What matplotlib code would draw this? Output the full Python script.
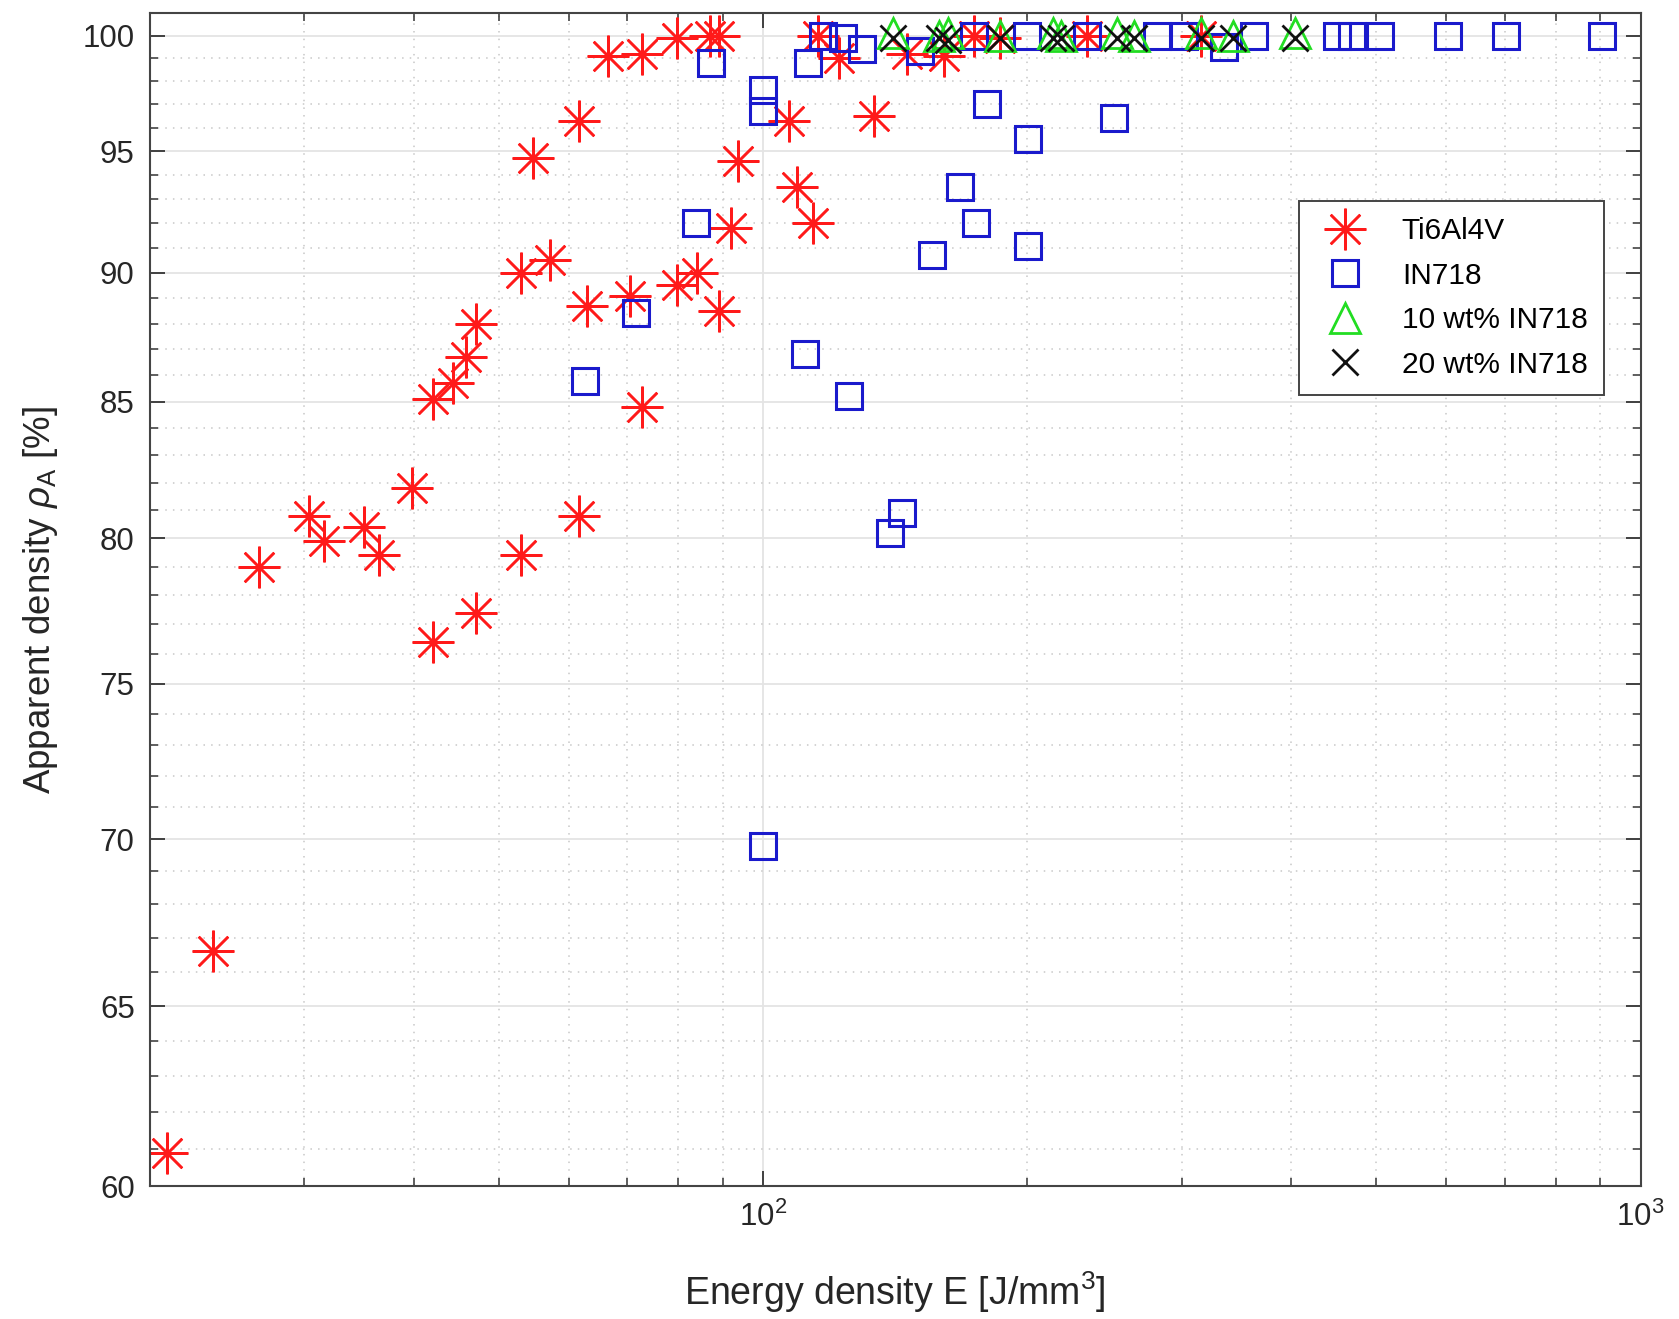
import numpy as np
import matplotlib
matplotlib.use("Agg")
from matplotlib import pyplot as plt
from matplotlib.ticker import FixedLocator, NullFormatter, FixedFormatter

plt.rcParams['font.family'] = ['Liberation Sans', 'DejaVu Sans']
plt.rcParams['mathtext.fontset'] = 'custom'
plt.rcParams['mathtext.rm'] = 'Liberation Sans'
plt.rcParams['mathtext.it'] = 'Liberation Sans:italic'

# Ti6Al4V
ti_E = [20.9, 23.6, 26.6, 30.4, 31.6, 35.1, 36.5, 39.8, 42.0, 42.0, 44.3, 45.8,
        47.1, 47.1, 52.9, 52.9, 57.2, 54.6, 61.6, 61.6, 63.0, 66.5, 70.5, 72.7,
        72.7, 79.8, 79.8, 84.0, 86.9, 89.1, 89.1, 91.9, 93.7, 107.0, 109.4, 114.1,
        115.5, 122.1, 133.7, 145.9, 160.6, 173.8, 186.4, 234.2, 315.8]
ti_rho = [60.9, 66.6, 79.0, 80.8, 79.9, 80.4, 79.4, 81.8, 76.4, 85.1, 85.7, 86.7,
          88.0, 77.4, 79.4, 90.0, 90.5, 94.7, 96.3, 80.8, 88.7, 99.1, 89.1, 99.2,
          84.8, 89.5, 99.9, 90.0, 100.0, 100.0, 88.5, 91.8, 94.6, 96.3, 93.5, 92.0,
          100.0, 99.0, 96.5, 99.2, 99.1, 100.0, 99.9, 100.0, 100.0]

# IN718
in_E = [62.6, 71.7, 83.8, 87.3, 100.0, 100.0, 100.0, 111.6, 112.6, 117.1, 123.2,
        125.3, 129.6, 139.5, 143.8, 150.9, 155.7, 167.5, 173.8, 174.8, 179.7, 200.0,
        200.6, 200.6, 234.2, 251.0, 281.4, 301.9, 335.1, 362.5, 450.4, 468.5, 504.2,
        603.8, 703.1, 903.4]
in_rho = [85.8, 88.4, 92.0, 98.8, 97.6, 96.7, 69.8, 86.8, 98.8, 100.0, 99.9,
          85.2, 99.4, 80.2, 80.9, 99.3, 90.7, 93.5, 100.0, 92.0, 97.0, 100.0,
          95.5, 91.1, 100.0, 96.4, 100.0, 100.0, 99.5, 100.0, 100.0, 100.0, 100.0,
          100.0, 100.0, 100.0]

# 10 wt% IN718
w10_E = [140.6, 158.5, 162.5, 186.4, 214.0, 218.3, 253.4, 264.4, 315.8, 342.7, 403.5]
w10_rho = [100.1, 100.0, 100.1, 100.0, 100.1, 100.0, 100.1, 100.0, 100.1, 100.0, 100.1]

# 20 wt% IN718
w20_E = [140.6, 158.5, 162.5, 186.4, 214.0, 218.3, 253.4, 264.4, 315.8, 342.7, 403.5]
w20_rho = [99.9, 99.9, 99.8, 99.9, 99.9, 99.9, 99.9, 99.9, 99.9, 99.9, 99.9]

y_major = [60, 65, 70, 75, 80, 85, 90, 95, 100]
y_minor = [v for v in range(61, 101) if v % 5 != 0]
x_minor = [30, 40, 50, 60, 70, 80, 90, 200, 300, 400, 500, 600, 700, 800, 900]

fig = plt.figure(figsize=(16.79, 13.19), dpi=100)
ax = fig.add_axes([0.0893, 0.1006, 0.8878, 0.8894])

ax.plot(ti_E, ti_rho, linestyle='none', marker=(8, 2, 0), markersize=30,
        markeredgewidth=1.8, color='#ff1a1a', label='Ti6Al4V')
ax.plot(in_E, in_rho, linestyle='none', marker='s', markersize=19,
        markeredgewidth=2.2, markerfacecolor='none', markeredgecolor='#1a1acc', label='IN718')
ax.plot(w10_E, w10_rho, linestyle='none', marker='^', markersize=22,
        markeredgewidth=2.0, markerfacecolor='none', markeredgecolor='#22dd22', label='10 wt% IN718')
ax.plot(w20_E, w20_rho, linestyle='none', marker='x', markersize=19,
        markeredgewidth=2.0, color='#111111', label='20 wt% IN718')

ax.set_xscale('log')
ax.set_yscale('log')
ax.set_xlim(20, 1000)
ax.set_ylim(60, 101)

ax.yaxis.set_major_locator(FixedLocator(y_major))
ax.yaxis.set_major_formatter(FixedFormatter([str(v) for v in y_major]))
ax.yaxis.set_minor_locator(FixedLocator(y_minor))
ax.yaxis.set_minor_formatter(NullFormatter())
ax.xaxis.set_minor_locator(FixedLocator(x_minor))
ax.xaxis.set_minor_formatter(NullFormatter())

ax.grid(True, which='major', color='#e4e4e4', linestyle='-', linewidth=1.3)
ax.grid(True, which='minor', color='#c8c8c8', linestyle=(0, (1, 4)), linewidth=1.1)
ax.set_axisbelow(True)

ax.tick_params(which='both', direction='in', top=True, right=True,
               labelsize=22.5, colors='#333333', labelcolor='#262626')
ax.tick_params(which='major', length=11, width=1.3, pad=11)
ax.tick_params(which='minor', length=6, width=1.1)
for s in ax.spines.values():
    s.set_color('#444444')
    s.set_linewidth(1.5)

ax.set_xlabel('Energy density E [J/mm$^3$]', fontsize=27, color='#262626', labelpad=26)
ax.set_ylabel(r'Apparent density $\rho_\mathrm{A}$ [%]', fontsize=26.5, color='#262626', labelpad=16)

leg = ax.legend(loc='upper right', bbox_to_anchor=(0.9755, 0.840), fontsize=21.5,
                fancybox=False, framealpha=1, edgecolor='#444444',
                handletextpad=0.9, borderpad=0.55, labelspacing=0.55, handlelength=2.0,
                borderaxespad=0)
leg.get_frame().set_linewidth(1.4)

fig.savefig('out.png', dpi=100)
